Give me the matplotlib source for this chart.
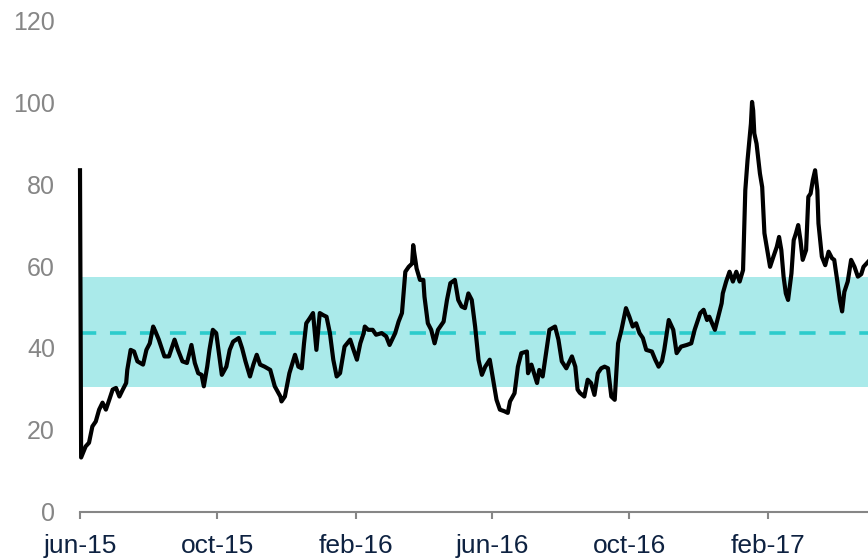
import datetime as dt
import matplotlib
matplotlib.use("Agg")
import matplotlib.pyplot as plt

plt.rcParams["font.family"] = ["Liberation Sans", "DejaVu Sans"]

# series: days after 1 jun 2015 and value
start = dt.date(2015, 6, 1)
days = [0, 1, 5, 8, 11, 14, 17, 20, 23, 26, 29, 32, 35, 38, 41, 42, 45, 48, 51, 56,
        59, 62, 65, 67, 70, 75, 79, 84, 87, 91, 95, 99, 102, 105, 108, 110, 113, 115, 118, 121,
        123, 126, 130, 133, 136, 141, 144, 147, 151, 154, 157, 160, 164, 169, 173, 178, 179, 182, 186, 191,
        194, 197, 199, 201, 204, 207, 210, 213, 216, 219, 222, 225, 228, 231, 235, 240, 243, 246, 249, 252,
        253, 256, 260, 263, 268, 272, 275, 280, 283, 286, 289, 292, 295, 296, 297, 299, 302, 305, 306, 309,
        312, 315, 318, 323, 326, 329, 333, 336, 339, 342, 345, 348, 351, 354, 357, 360, 364, 367, 370, 373,
        377, 380, 382, 386, 389, 392, 397, 398, 401, 406, 408, 411, 414, 417, 422, 425, 428, 432, 437, 440,
        442, 444, 448, 451, 454, 457, 460, 463, 466, 469, 472, 475, 478, 481, 485, 488, 491, 494, 497, 500,
        503, 508, 511, 514, 517, 519, 523, 527, 530, 534, 539, 543, 546, 551, 554, 557, 559, 564, 567, 570,
        571, 574, 577, 580, 583, 586, 589, 590, 591, 593, 596, 597, 598, 599, 601, 604, 606, 608, 610, 613,
        616, 619, 621, 623, 625, 627, 629, 632, 634, 636, 638, 640, 642, 645, 647, 649, 651, 653, 655, 656,
        659, 662, 665, 668, 670, 673, 675, 677, 679, 682, 685, 688, 691, 694, 696, 700]
values = [83.4, 13.2, 15.9, 16.8, 20.8, 22.0, 24.9, 26.6, 24.9, 27.3, 29.8, 30.2, 28.1, 29.8, 31.4, 34.6, 39.5, 39.1, 36.7, 35.9,
          39.5, 41.1, 45.2, 44.0, 42.0, 37.9, 37.9, 42.0, 39.5, 36.7, 36.3, 40.7, 36.3, 33.8, 33.4, 30.6, 35.4, 39.5, 44.4, 43.6,
          39.5, 33.4, 35.4, 39.5, 41.5, 42.4, 39.9, 36.7, 33.0, 35.9, 38.3, 35.9, 35.4, 34.6, 30.6, 28.1, 26.9, 28.1, 33.8, 38.3,
          35.4, 35.0, 41.1, 46.0, 47.2, 48.5, 39.5, 48.5, 48.0, 47.6, 43.6, 37.1, 33.0, 33.8, 40.3, 42.0, 39.5, 37.1, 41.1, 43.6,
          45.2, 44.4, 44.4, 43.2, 43.6, 42.8, 40.7, 43.6, 46.4, 48.5, 58.6, 59.8, 60.6, 65.1, 63.1, 59.4, 56.6, 56.6, 52.5, 46.0,
          44.4, 41.1, 44.4, 46.4, 51.7, 55.8, 56.6, 51.7, 50.1, 49.7, 53.3, 51.7, 45.2, 37.1, 33.4, 35.4, 37.1, 32.2, 27.3, 24.9,
          24.5, 24.1, 26.9, 28.9, 35.4, 38.7, 39.1, 33.8, 35.9, 31.4, 34.6, 33.0, 38.7, 44.4, 45.2, 42.0, 36.7, 35.0, 37.9, 35.4,
          29.8, 29.0, 28.1, 32.2, 31.4, 28.5, 33.8, 35.0, 35.4, 35.0, 28.1, 27.3, 41.1, 44.4, 49.7, 47.6, 45.2, 46.0, 43.6, 42.4,
          39.5, 39.1, 37.1, 35.4, 36.7, 39.5, 46.8, 44.4, 38.7, 40.3, 40.7, 41.1, 44.4, 48.5, 49.3, 46.8, 47.6, 44.4, 47.6, 50.9,
          53.3, 56.2, 58.6, 56.2, 58.6, 56.2, 59.0, 68.8, 78.5, 85.9, 94.8, 100.1, 98.0, 92.4, 89.9, 82.6, 79.3, 68.0, 64.7, 59.8,
          62.3, 64.7, 67.1, 63.9, 57.4, 53.3, 51.7, 58.2, 66.3, 68.0, 70.0, 66.3, 61.5, 63.9, 76.9, 77.7, 81.0, 83.4, 78.5, 70.4,
          62.3, 60.2, 63.5, 61.9, 61.5, 55.8, 51.7, 48.9, 53.7, 56.2, 61.5, 59.8, 57.4, 58.0, 59.8, 61.0]

# band and average
band_low = 30.5
band_high = 57.2
mean_level = 43.6

tick_dates = [dt.date(2015, 6, 1), dt.date(2015, 10, 1), dt.date(2016, 2, 1),
              dt.date(2016, 6, 1), dt.date(2016, 10, 1), dt.date(2017, 2, 1)]
tick_labels = ["jun-15", "oct-15", "feb-16", "jun-16", "oct-16", "feb-17"]

dates = [start + dt.timedelta(days=d) for d in days]

fig = plt.figure(figsize=(8.68, 5.58), dpi=100)
ax = fig.add_axes([80 / 868, 1 - 511.5 / 558, 1 - 80 / 868, (511.5 - 20.5) / 558])

ax.axhspan(band_low, band_high, color="#aaeaea", lw=0, zorder=1)
ax.axhline(mean_level, color="#2ccccc", lw=2.6, dashes=(4.5, 3.8), zorder=2)
ax.plot(dates, values, color="black", lw=3.0, zorder=3, clip_on=False, solid_joinstyle="round")

ax.set_ylim(0, 120)
ax.set_yticks([0, 20, 40, 60, 80, 100, 120])
ax.set_xlim(start, start + dt.timedelta(days=700))
ax.set_xticks(tick_dates)
ax.set_xticklabels(tick_labels)

for s in ["top", "right", "left"]:
    ax.spines[s].set_visible(False)
ax.spines["bottom"].set_color("#868686")
ax.spines["bottom"].set_linewidth(1.5)

ax.tick_params(axis="y", length=0, pad=18, labelsize=18, labelcolor="#868686")
ax.tick_params(axis="x", length=5, width=1.5, color="#868686", pad=11,
               labelsize=19, labelcolor="#0e2241")

fig.savefig("out.png", dpi=100)
